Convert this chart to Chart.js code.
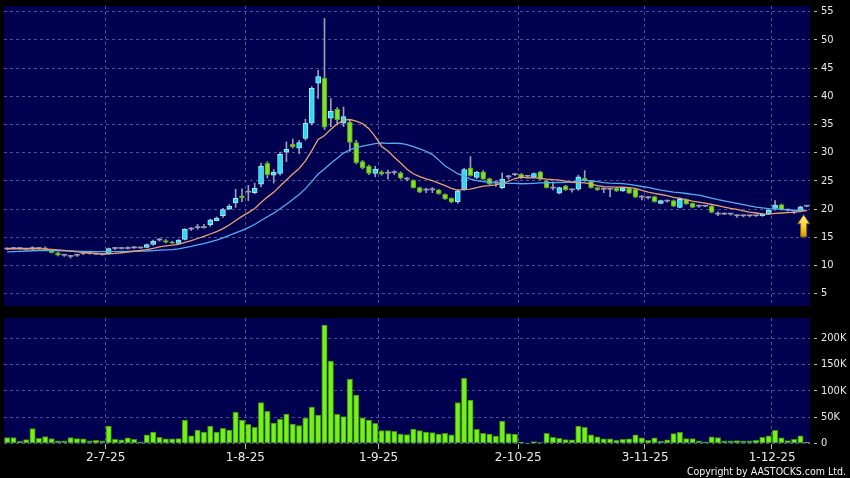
<!DOCTYPE html>
<html>
<head>
<meta charset="utf-8">
<script src="https://cdn.jsdelivr.net/npm/chart.js@4.4.1/dist/chart.umd.min.js"></script>
<style>
  html, body { margin: 0; padding: 0; background: #000; }
  #wrap { position: relative; width: 850px; height: 478px; overflow: hidden; background: #000; }
  #priceCanvas { position: absolute; left: 0; top: 0; }
  #volCanvas { position: absolute; left: 0; top: 312px; }
  #copy { position: absolute; right: 4px; top: 465px; color: #f2f2f2; line-height: 12px;
          font: 10.5px "DejaVu Sans Condensed", "DejaVu Sans", sans-serif; }
</style>
</head>
<body>
<div id="wrap">
  <canvas id="priceCanvas" width="850" height="312"></canvas>
  <canvas id="volCanvas" width="850" height="166"></canvas>
  <div id="copy">Copyright by AASTOCKS.com Ltd.</div>
</div>
<script>
// daily candles
const opens = [12.9,13.0,13.0,12.9,13.0,13.0,13.1,12.7,12.25,11.8, 11.6,11.8,12.1,12.1,12.0,11.95,12.1,13.0,13.0,13.0,
  13.1,13.1,13.2,13.7,14.5,14.4,14.15,13.9,14.6,16.45, 16.7,16.7,17.2,17.95,18.8,19.95,21.1,22.35,23.0,22.9,
  24.4,28.1,26.0,26.3,30.1,31.5,30.8,32.5,35.2,42.3, 43.2,36.1,37.7,35.2,35.4,31.8,28.4,27.6,26.3,26.6,
  26.35,26.45,26.4,25.3,25.1,23.8,23.35,23.4,23.4,22.6, 21.9,21.3,23.4,27.3,25.6,26.6,25.4,24.65,23.8,25.7,
  26.1,26.15,25.8,25.6,26.6,25.0,23.7,22.8,24.1,23.4, 23.5,25.5,25.0,23.8,23.5,23.5,23.7,23.2,23.7,23.5,
  22.1,22.0,22.2,21.0,21.4,21.5,20.3,21.7,21.0,20.5, 20.5,20.5,19.1,19.1,19.1,18.8,18.8,18.8,18.8,18.8,
  19.1,20.1,20.8,19.8,19.6,19.6,20.5];
const highs = [13.1,13.2,13.1,13.0,13.3,13.2,13.3,12.8,12.3,11.9, 11.8,11.9,12.2,12.2,12.1,12.0,13.1,13.2,13.1,13.3,
  13.4,13.2,13.8,14.5,14.8,14.6,14.3,14.6,16.5,16.7, 17.3,17.3,18.2,18.6,20.1,20.8,23.5,23.6,24.2,24.6,
  28.1,28.4,27.0,30.1,31.9,32.4,32.2,35.9,41.7,44.6, 53.8,39.6,38.0,38.1,35.8,32.2,28.6,27.8,27.6,26.8,
  26.9,26.8,26.6,25.6,25.2,23.9,23.7,23.8,23.5,22.7, 22.0,23.5,27.2,29.3,26.7,26.8,25.5,25.0,26.4,26.0,
  26.3,26.3,26.0,26.4,26.7,25.1,24.8,23.9,24.2,23.6, 26.0,26.8,25.1,23.9,23.7,23.6,23.8,23.8,23.8,23.6,
  22.4,22.2,22.3,21.6,21.6,21.6,21.8,21.8,21.1,20.7, 20.6,20.6,19.5,19.3,19.2,19.0,18.9,18.9,18.9,19.2,
  19.9,21.5,20.9,20.0,19.8,20.5,20.6];
const lows = [12.8,12.9,12.9,12.8,12.8,12.9,12.8,12.2,11.7,11.6, 11.3,11.6,11.9,12.0,11.9,11.8,12.0,12.8,12.9,12.9,
  13.0,13.0,13.1,13.6,14.3,14.0,13.9,13.8,14.5,16.2, 16.4,16.6,16.9,17.9,18.5,19.9,20.3,21.3,21.5,22.7,
  23.9,25.5,24.6,26.0,28.4,30.8,29.8,32.2,34.9,39.6, 34.1,34.6,34.9,34.6,30.2,28.0,27.1,26.1,25.7,26.0,
  25.3,26.1,25.3,25.0,23.7,22.9,22.9,22.9,22.6,21.7, 21.1,21.0,23.3,25.8,25.4,25.2,24.3,24.0,23.6,25.3,
  25.9,25.4,25.5,25.5,25.2,23.7,23.4,22.7,23.3,23.0, 23.3,24.9,23.7,23.3,22.9,22.2,23.1,23.1,22.7,22.0,
  21.6,21.8,21.2,20.9,21.2,20.4,20.2,20.8,20.2,20.3, 20.4,19.3,18.8,19.0,18.9,18.5,18.6,18.6,18.7,18.7,
  19.0,19.8,19.8,19.6,19.2,19.5,20.4];
const closes = [12.9,13.0,13.0,12.9,13.0,13.0,12.8,12.25,11.8,11.8, 11.6,11.8,12.1,12.1,12.0,11.95,13.0,13.0,13.0,13.0,
  13.1,13.1,13.7,14.3,14.5,14.1,13.95,14.5,16.4,16.45, 16.7,16.7,18.1,18.4,19.9,20.5,21.9,21.95,23.0,23.65,
  27.6,26.1,26.5,29.7,30.6,31.0,31.8,35.2,41.4,43.5, 34.5,37.3,35.8,36.4,31.8,28.2,27.3,26.3,27.1,26.2,
  26.35,26.45,25.45,25.3,23.8,23.0,23.35,23.4,22.7,21.8, 21.2,23.2,27.0,25.9,26.5,25.3,24.4,24.65,25.3,25.7,
  26.1,25.5,25.8,26.3,25.3,23.8,23.7,23.8,23.4,23.4, 25.7,25.0,23.8,23.4,23.5,23.5,23.2,23.7,22.8,22.1,
  22.1,22.0,21.3,21.5,21.4,20.5,21.7,20.9,20.3,20.5, 20.5,19.4,19.1,19.1,19.1,18.8,18.8,18.8,18.8,19.1,
  19.8,20.7,19.9,19.8,19.6,20.4,20.5];
// moving averages as drawn (orange = 10 day, blue = 20 day)
const ma10 = [12.95,12.95,12.95,12.95,12.95,12.95,12.9,12.85,12.75,12.65, 12.52,12.40,12.31,12.23,12.13,12.02,12.04,12.12,12.24,12.36,
  12.51,12.64,12.80,13.02,13.27,13.48,13.58,13.73,14.07,14.41, 14.77,15.13,15.57,15.98,16.52,17.16,17.96,18.70,19.36,20.08,
  21.17,22.11,22.95,24.08,25.15,26.20,27.19,28.52,30.36,32.34, 33.03,34.15,35.08,35.75,35.87,35.59,35.14,34.25,32.82,31.09,
  30.28,29.19,28.16,27.05,26.25,25.73,25.33,25.04,24.60,24.16, 23.65,23.32,23.48,23.54,23.81,24.04,24.14,24.27,24.53,24.92,
  25.41,25.64,25.52,25.56,25.44,25.29,25.22,25.13,24.94,24.71, 24.67,24.62,24.42,24.13,23.95,23.92,23.87,23.86,23.80,23.67,
  23.31,23.01,22.76,22.57,22.36,22.06,21.91,21.63,21.38,21.22, 21.06,20.80,20.58,20.34,20.11,19.94,19.65,19.44,19.29,19.15,
  19.08,19.21,19.29,19.36,19.41,19.57,19.74];
const ma20 = [12.40,12.45,12.50,12.55,12.60,12.62,12.62,12.62,12.60,12.58, 12.55,12.53,12.50,12.48,12.46,12.45,12.45,12.46,12.48,12.50,
  12.51,12.52,12.55,12.62,12.70,12.75,12.81,12.92,13.15,13.38, 13.64,13.88,14.18,14.50,14.89,15.32,15.77,16.21,16.71,17.25,
  17.97,18.62,19.26,20.03,20.84,21.68,22.57,23.61,24.86,26.21, 27.10,28.13,29.02,29.92,30.51,30.90,31.17,31.38,31.59,31.72,
  31.65,31.67,31.62,31.40,31.06,30.66,30.24,29.65,28.71,27.63, 26.96,26.26,25.82,25.29,25.03,24.88,24.74,24.65,24.56,24.54,
  24.53,24.48,24.50,24.55,24.62,24.66,24.68,24.70,24.73,24.81, 25.04,25.13,24.97,24.84,24.69,24.60,24.54,24.50,24.37,24.19,
  23.99,23.82,23.59,23.35,23.16,22.99,22.89,22.75,22.59,22.45, 22.19,21.91,21.67,21.46,21.24,21.00,20.78,20.54,20.34,20.19,
  20.07,20.01,19.94,19.85,19.76,19.76,19.70];
// volume in thousands of shares
const volumeK = [11,11,4.2,7.2,28.2,9.9,13,9.1,4.8,4.8, 11,9.1,8.6,4.8,6,4.8,33,8,6.7,10.5,
  8,2.9,16.2,21.9,11.8,8.6,8.6,9.1,44.7,14.3, 25.7,21.9,33,21.9,28.9,25.7,59.9,44.7,36.5,30.8,
  77.6,61.2,39,46.6,56,37,33.8,48.5,69.4,54.2, 225,156.8,55.5,51,122.6,92.2,49,44.7,38.4,24.4,
  24.4,23,17.8,16.8,27.6,24.4,21.5,20.6,18.1,19.4, 16.2,78,124,82.7,27,19.4,18,14,42.8,18.7,
  17.8,2.6,0.5,3.4,1.5,19.4,11.8,9.9,7.2,6.7, 33,30.8,16.2,12.4,8.6,8.6,6,8,8.6,16.2,
  10.5,6,10.5,4.2,6.7,18.7,21.2,9.1,9.1,4.8, 2.9,12.4,11,4.8,4.8,5.3,4.8,4.8,6,11.8,
  14.3,25,10.5,5.3,8,14.3,2.3];
const tickIdx = [16, 38, 59, 81, 101, 121];
const tickText = ['2-7-25', '1-8-25', '1-9-25', '2-10-25', '3-11-25', '1-12-25'];

const labels = closes.map((c, i) => i);
const NAVY = '#000050';
const GRID = 'rgba(105,105,165,0.75)';
const UP = '#2fd8ee', UP_EDGE = '#9ff0ff';
const DOWN = '#80e02a', DOWN_EDGE = '#52a018';
const FLAT = '#9c9cb6';
const VOL = '#74f01a', VOL_EDGE = '#3d8c0c';
const TXT = '#e8e8e8';
const AXIS_FONT = { family: "'DejaVu Sans Condensed', 'DejaVu Sans', sans-serif", size: 11 };

Chart.defaults.font.family = "'DejaVu Sans', sans-serif";

const kind = closes.map((c, i) => c > opens[i] ? 'up' : (c < opens[i] ? 'down' : 'flat'));

function xGrid(ctx) {
  return tickIdx.includes(ctx.index) ? GRID : 'transparent';
}

const panelBg = {
  id: 'panelBg',
  beforeDraw(chart) {
    const a = chart.chartArea;
    const ctx = chart.ctx;
    ctx.save();
    ctx.fillStyle = NAVY;
    ctx.fillRect(a.left, a.top, a.right - a.left, a.bottom - a.top);
    ctx.restore();
  }
};

// yellow marker under the latest bar
const lastArrow = {
  id: 'lastArrow',
  afterDatasetsDraw(chart) {
    const n = closes.length - 1;
    const xs = chart.scales.x, ys = chart.scales.y;
    const x = (xs.getPixelForValue(n - 1) + xs.getPixelForValue(n)) / 2;
    const y = ys.getPixelForValue(lows[n]) + 8;
    const ctx = chart.ctx;
    ctx.save();
    const g = ctx.createLinearGradient(0, y, 0, y + 22);
    g.addColorStop(0, '#fff3a0');
    g.addColorStop(0.5, '#ffd23a');
    g.addColorStop(1, '#d99a00');
    ctx.beginPath();
    ctx.moveTo(x, y);
    ctx.lineTo(x + 6, y + 9);
    ctx.lineTo(x + 3, y + 9);
    ctx.lineTo(x + 3, y + 22);
    ctx.lineTo(x - 3, y + 22);
    ctx.lineTo(x - 3, y + 9);
    ctx.lineTo(x - 6, y + 9);
    ctx.closePath();
    ctx.fillStyle = g;
    ctx.fill();
    ctx.strokeStyle = '#8a6400';
    ctx.lineWidth = 1;
    ctx.stroke();
    ctx.restore();
  }
};

new Chart(document.getElementById('priceCanvas'), {
  type: 'bar',
  data: {
    labels: labels,
    datasets: [
      {
        type: 'line', data: ma10, borderColor: '#eaa070', borderWidth: 1.3,
        pointRadius: 0, tension: 0, order: 0
      },
      {
        type: 'line', data: ma20, borderColor: '#52aef0', borderWidth: 1.3,
        pointRadius: 0, tension: 0, order: 0
      },
      {
        data: closes.map((c, i) => [opens[i], c]),
        backgroundColor: kind.map(k => k === 'up' ? UP : k === 'down' ? DOWN : FLAT),
        borderColor: kind.map(k => k === 'up' ? UP_EDGE : k === 'down' ? DOWN_EDGE : FLAT),
        borderWidth: kind.map(k => k === 'flat' ? 0 : 1),
        borderSkipped: false,
        barThickness: 5,
        minBarLength: 1,
        grouped: false,
        order: 1
      },
      {
        data: lows.map((l, i) => [l, highs[i]]),
        backgroundColor: FLAT,
        borderWidth: 0,
        barThickness: 1,
        grouped: false,
        order: 2
      }
    ]
  },
  options: {
    responsive: false,
    animation: false,
    layout: { padding: { left: 4, top: 6, right: 0, bottom: 6 } },
    plugins: { legend: { display: false }, tooltip: { enabled: false } },
    scales: {
      x: {
        offset: true,
        grid: { offset: true, color: xGrid, drawTicks: false },
        border: { display: false, dash: [3, 3] },
        ticks: { display: false, autoSkip: false },
        afterFit: s => { s.height = 0; s.paddingLeft = 0; s.paddingRight = 0; }
      },
      y: {
        position: 'right',
        min: 2.8, max: 56,
        grid: { color: GRID, tickLength: 7, tickColor: '#b8b8b8', tickBorderDash: [0, 4, 3, 40] },
        border: { display: false, dash: [3, 3] },
        ticks: { stepSize: 5, includeBounds: false, padding: 4, color: TXT, font: AXIS_FONT },
        afterFit: s => { s.width = 40; s.paddingTop = 0; s.paddingBottom = 0; }
      }
    }
  },
  plugins: [panelBg, lastArrow]
});

new Chart(document.getElementById('volCanvas'), {
  type: 'bar',
  data: {
    labels: labels,
    datasets: [{
      data: volumeK,
      backgroundColor: VOL,
      borderColor: VOL_EDGE,
      borderWidth: 1,
      borderSkipped: false,
      barThickness: 5.4
    }]
  },
  options: {
    responsive: false,
    animation: false,
    layout: { padding: { left: 4, top: 6, right: 0, bottom: 0 } },
    plugins: { legend: { display: false }, tooltip: { enabled: false } },
    scales: {
      x: {
        offset: true,
        grid: {
          offset: true, color: xGrid, tickLength: 5,
          tickColor: ctx => tickIdx.includes(ctx.index) ? '#b8b8b8' : 'transparent'
        },
        border: { display: false, dash: [3, 3] },
        ticks: {
          autoSkip: false, maxRotation: 0, minRotation: 0, padding: 2, labelOffset: -3,
          color: TXT, font: { family: "'DejaVu Sans', sans-serif", size: 12 },
          callback: (v, i) => {
            const k = tickIdx.indexOf(i);
            return k >= 0 ? tickText[k] : '';
          }
        },
        afterFit: s => { s.height = 34; s.paddingLeft = 0; s.paddingRight = 0; }
      },
      y: {
        position: 'right',
        min: -1, max: 238.6,
        grid: { color: GRID, tickLength: 7, tickColor: '#b8b8b8', tickBorderDash: [0, 4, 3, 40] },
        border: { display: false, dash: [3, 3] },
        ticks: {
          stepSize: 50, includeBounds: false, padding: 4, color: TXT, font: AXIS_FONT,
          callback: v => v === 0 ? '0' : v + 'K'
        },
        afterFit: s => { s.width = 40; s.paddingTop = 0; s.paddingBottom = 0; }
      }
    }
  },
  plugins: [panelBg]
});
</script>
</body>
</html>
